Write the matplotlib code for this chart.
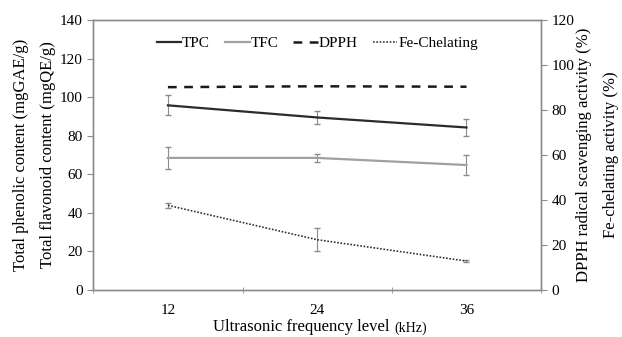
import matplotlib.pyplot as plt
import numpy as np

plt.rcParams['font.family'] = ['Liberation Serif', 'DejaVu Serif']

freq = ["12", "24", "36"]
tpc = [95.8, 89.5, 84.3]
tpc_err = [5.2, 3.6, 4.6]
tfc = [68.5, 68.5, 64.8]
tfc_err = [5.5, 2.0, 5.2]
dpph = [90.2, 90.6, 90.4]
fe = [37.6, 22.3, 12.8]
fe_err = [1.0, 5.0, 0.5]

x = np.arange(1, len(freq) + 1)
grey = "#8c8c8c"

fig = plt.figure(figsize=(6.22, 3.37), dpi=100)
ax = fig.add_axes([0.150, 0.140, 0.720, 0.800])
ax2 = ax.twinx()

l1 = ax.errorbar(x, tpc, yerr=tpc_err, color="#2b2b2b", lw=1.6, ecolor=grey,
                 elinewidth=0.8, capsize=2, label="TPC")
l2 = ax.errorbar(x, tfc, yerr=tfc_err, color="#a0a0a0", lw=1.6, ecolor=grey,
                 elinewidth=0.8, capsize=2, label="TFC")
l3 = ax2.plot(x, dpph, color="#1a1a1a", lw=1.8, ls=(0, (3.5, 3)), label="DPPH")
l4 = ax2.errorbar(x, fe, yerr=fe_err, color="#333333", lw=1.2, ls=(0, (1, 1)),
                  ecolor=grey, elinewidth=0.8, capsize=2, label="Fe-Chelating")

ax.set_xlim(0.5, 3.5)
ax.set_ylim(0, 140)
ax2.set_ylim(0, 120)
ax.set_yticks(np.arange(0, 141, 20))
ax2.set_yticks(np.arange(0, 121, 20))
ax.set_xticks(x)
ax.set_xticklabels(freq)
ax.set_xticks([0.5, 1.5, 2.5, 3.5], minor=True)
ax.tick_params(axis="x", which="major", length=0, pad=10)
ax.tick_params(axis="x", which="minor", length=5, direction="inout", color=grey)
ax.tick_params(axis="y", length=4, color=grey, labelsize=11)
ax2.tick_params(axis="y", length=4, color=grey, labelsize=11)
ax.tick_params(axis="x", labelsize=11)

for a in (ax, ax2):
    for s in a.spines.values():
        s.set_color(grey)
        s.set_linewidth(1.0)

ax.set_ylabel("Total phenolic content (mgGAE/g)\nTotal flavonoid content (mgQE/g)",
              fontsize=12, labelpad=3, linespacing=1.9)
ax2.set_ylabel("DPPH radical scavenging activity (%)\nFe-chelating activity (%)",
               fontsize=12, labelpad=1, linespacing=1.9)

t1 = fig.text(0.343, 0.018, "Ultrasonic frequency level ", fontsize=12, ha="left", va="baseline")
t2 = ax.annotate("(kHz)", xy=(1, 0), xycoords=t1, fontsize=10, ha="left", va="bottom")

handles = [l1[0], l2[0], l3[0], l4[0]]
ax.legend(handles, ["TPC", "TFC", "DPPH", "Fe-Chelating"], loc="upper center",
          ncol=4, frameon=False, fontsize=11, handlelength=1.6, handletextpad=0.05,
          columnspacing=1.0, bbox_to_anchor=(0.5, 0.99))

fig.savefig("out.png", dpi=100)
